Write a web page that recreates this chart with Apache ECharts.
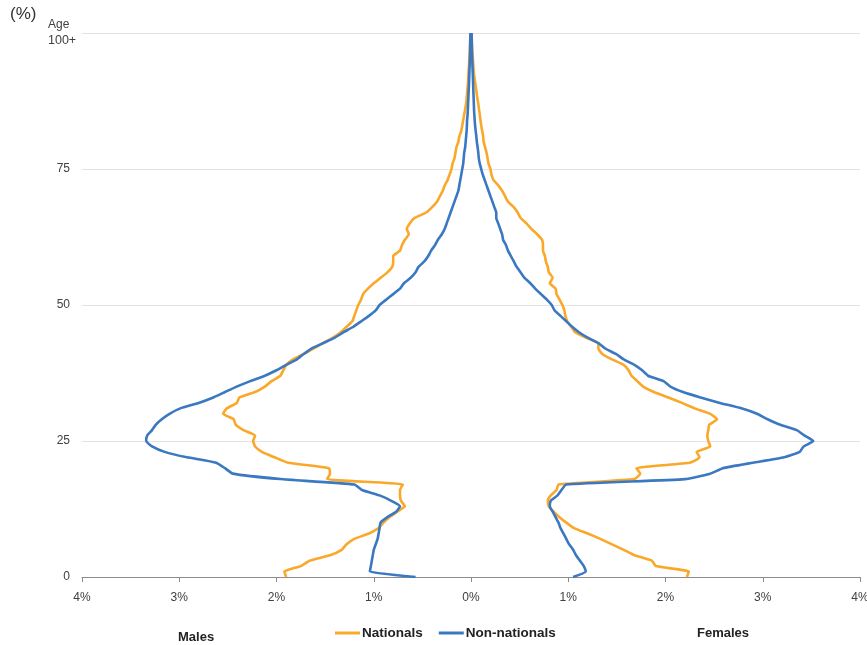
<!DOCTYPE html>
<html>
<head>
<meta charset="utf-8">
<script src="https://cdn.jsdelivr.net/npm/echarts@6/dist/echarts.min.js"></script>
<style>
  html, body { margin: 0; padding: 0; background: #fff; overflow: hidden; }
  #chart { width: 867px; height: 645px; }
</style>
</head>
<body>
<div id="chart"></div>
<script>
// Ages 0..100 (100 = 100+)
const ages = Array.from({length: 101}, (_, i) => i);
const xTicks = [-4, -3, -2, -1, 0, 1, 2, 3, 4];
const yTicks = [0, 25, 50, 75, 100];

// Share of population (%) by single year of age
const malesNationals = [
  1.90,1.92,1.75,1.66,1.45,1.33,1.28,1.20,1.05,0.95,
  0.90,0.84,0.76,0.68,0.72,0.73,0.73,0.70,1.48,1.45,
  1.46,1.88,2.02,2.15,2.22,2.24,2.22,2.34,2.42,2.44,
  2.55,2.51,2.41,2.38,2.22,2.12,2.05,1.96,1.93,1.90,
  1.83,1.72,1.62,1.52,1.42,1.34,1.28,1.22,1.20,1.18,
  1.16,1.13,1.11,1.06,1.00,0.93,0.86,0.81,0.80,0.80,
  0.73,0.71,0.68,0.64,0.66,0.63,0.58,0.46,0.40,0.35,
  0.32,0.29,0.27,0.24,0.22,0.20,0.19,0.17,0.16,0.15,
  0.13,0.12,0.10,0.09,0.08,0.07,0.06,0.05,0.045,0.04,
  0.035,0.03,0.028,0.025,0.02,0.018,0.015,0.012,0.01,0.008,
  0.006
];
const malesNonNationals = [
  0.57,1.04,1.03,1.02,1.01,1.00,0.98,0.96,0.95,0.94,
  0.93,0.86,0.77,0.73,0.82,0.94,1.12,1.20,1.96,2.45,
  2.53,2.62,2.92,3.15,3.28,3.34,3.33,3.28,3.24,3.18,
  3.10,2.99,2.80,2.65,2.53,2.41,2.27,2.12,2.00,1.90,
  1.79,1.72,1.64,1.52,1.40,1.31,1.21,1.13,1.05,0.98,
  0.94,0.87,0.80,0.73,0.69,0.62,0.57,0.54,0.48,0.44,
  0.41,0.37,0.34,0.30,0.27,0.25,0.23,0.21,0.19,0.17,
  0.15,0.13,0.12,0.11,0.10,0.09,0.08,0.075,0.07,0.06,
  0.055,0.05,0.045,0.042,0.04,0.035,0.032,0.03,0.027,0.025,
  0.022,0.02,0.018,0.016,0.014,0.012,0.01,0.009,0.008,0.007,
  0.006
];
const femalesNationals = [
  2.22,2.24,1.90,1.86,1.68,1.57,1.45,1.33,1.20,1.06,
  0.98,0.91,0.85,0.80,0.79,0.82,0.88,0.90,1.68,1.74,
  1.70,2.25,2.35,2.32,2.46,2.44,2.43,2.44,2.45,2.53,
  2.46,2.30,2.17,2.03,1.88,1.77,1.71,1.65,1.62,1.57,
  1.45,1.35,1.31,1.31,1.18,1.07,1.03,0.99,0.97,0.96,
  0.94,0.91,0.88,0.87,0.81,0.84,0.80,0.79,0.77,0.76,
  0.74,0.74,0.73,0.68,0.62,0.57,0.51,0.48,0.44,0.38,
  0.35,0.32,0.28,0.23,0.21,0.20,0.18,0.17,0.16,0.145,
  0.13,0.125,0.115,0.105,0.097,0.09,0.082,0.075,0.065,0.058,
  0.05,0.042,0.034,0.028,0.024,0.02,0.016,0.012,0.01,0.008,
  0.006
];
const femalesNonNationals = [
  1.05,1.18,1.16,1.12,1.08,1.05,1.01,0.98,0.95,0.92,
  0.90,0.87,0.84,0.81,0.82,0.89,0.93,0.98,2.20,2.46,
  2.59,2.90,3.22,3.38,3.42,3.52,3.43,3.35,3.18,3.05,
  2.94,2.78,2.56,2.36,2.18,2.05,1.98,1.82,1.76,1.68,
  1.57,1.49,1.38,1.31,1.20,1.11,1.04,0.98,0.92,0.86,
  0.83,0.78,0.72,0.66,0.61,0.55,0.51,0.47,0.44,0.41,
  0.38,0.36,0.33,0.32,0.30,0.28,0.26,0.26,0.24,0.22,
  0.20,0.18,0.16,0.14,0.12,0.105,0.09,0.08,0.075,0.068,
  0.06,0.055,0.048,0.042,0.038,0.034,0.031,0.029,0.027,0.025,
  0.023,0.021,0.019,0.017,0.015,0.013,0.011,0.01,0.008,0.007,
  0.006
];

const ORANGE = '#F9A82A';
const BLUE = '#3A78C2';
const FONT = '"Liberation Sans", Arial, sans-serif';

const toPairs = (vals, sign) => vals.map((v, i) => [sign * v, ages[i]]);

const lineSeries = (name, vals, sign, color) => ({
  name: name,
  type: 'line',
  data: toPairs(vals, sign),
  symbol: 'none',
  smooth: 0.15,
  lineStyle: { color: color, width: 2.6, join: 'round' },
  itemStyle: { color: color },
  z: name === 'Nationals' ? 2 : 3
});

const chart = echarts.init(document.getElementById('chart'), null, { renderer: 'canvas' });
chart.setOption({
  animation: false,
  backgroundColor: '#fff',
  textStyle: { fontFamily: FONT },
  grid: { left: 82, right: 7, top: 33, bottom: 68, containLabel: false, outerBoundsMode: 'none' },
  xAxis: {
    type: 'value',
    min: xTicks[0], max: xTicks[xTicks.length - 1], interval: 1,
    axisLine: { show: true, lineStyle: { color: '#8c8c8c', width: 1 } },
    axisTick: { show: true, length: 5, lineStyle: { color: '#8c8c8c' } },
    splitLine: { show: false },
    axisLabel: {
      color: '#404040', fontSize: 12, fontFamily: FONT, margin: 15,
      formatter: v => Math.abs(v) + '%'
    }
  },
  yAxis: {
    type: 'value',
    min: yTicks[0], max: yTicks[yTicks.length - 1], interval: 25,
    axisLine: { show: false },
    axisTick: { show: false },
    splitLine: { show: true, lineStyle: { color: '#e3e3e3', width: 1 } },
    axisLabel: {
      color: '#404040', fontSize: 12, fontFamily: FONT, margin: 12,
      formatter: v => (v === 100 ? '' : String(v))
    }
  },
  legend: {
    top: 621, left: 330,
    data: ['Nationals', 'Non-nationals'],
    icon: 'rect', itemWidth: 25, itemHeight: 3, itemGap: 16,
    textStyle: { color: '#222', fontSize: 13.5, fontWeight: 'bold', fontFamily: FONT, padding: [0, 0, 0, -3] }
  },
  graphic: [
    { type: 'text', left: 10, top: 6, style: { text: '(%)', fill: '#333', font: '17px ' + FONT } },
    { type: 'text', left: 48, top: 19, style: { text: 'Age', fill: '#404040', font: '12px ' + FONT } },
    { type: 'text', left: 48, top: 34, style: { text: '100+', fill: '#404040', font: '12.5px ' + FONT } },
    { type: 'text', left: 178, top: 631, style: { text: 'Males', fill: '#222', font: 'bold 13px ' + FONT } },
    { type: 'text', left: 697, top: 627, style: { text: 'Females', fill: '#222', font: 'bold 13px ' + FONT } }
  ],
  series: [
    lineSeries('Nationals', malesNationals, -1, ORANGE),
    lineSeries('Nationals', femalesNationals, 1, ORANGE),
    lineSeries('Non-nationals', malesNonNationals, -1, BLUE),
    lineSeries('Non-nationals', femalesNonNationals, 1, BLUE)
  ]
});
</script>
</body>
</html>
